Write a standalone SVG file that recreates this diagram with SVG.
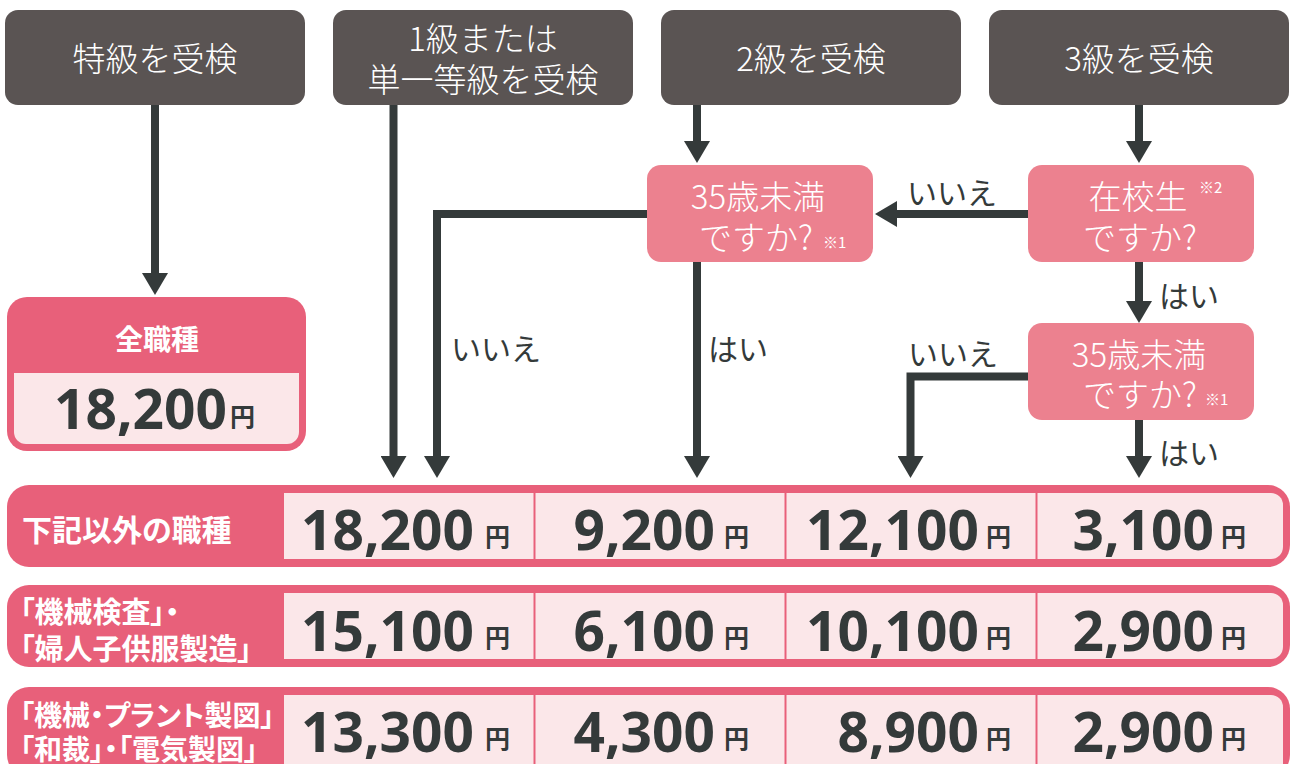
<svg xmlns="http://www.w3.org/2000/svg" width="1292" height="764" viewBox="0 0 1292 764">
<style>
.top{fill:#5a5453}
.q{fill:#ec818f}
.pk{fill:#e8607a}
.lt{fill:#fbe7e9}
.div{stroke:#e8607a;stroke-width:2}
.conn{fill:none;stroke:#343a3a;stroke-width:8}
.wt{fill:#fff;font-family:"Noto Sans CJK JP","Noto Sans",sans-serif;font-size:33px;font-weight:300;text-anchor:middle;dominant-baseline:central}
.qt{fill:#fff;font-family:"Noto Sans CJK JP","Noto Sans",sans-serif;font-size:33px;font-weight:300;dominant-baseline:central}
.sm{fill:#fff;font-family:"Noto Sans CJK JP",sans-serif;font-size:15px;dominant-baseline:central}
.lb{fill:#343a3a;font-family:"Noto Sans CJK JP",sans-serif;font-size:30px;text-anchor:middle;dominant-baseline:central}
.hd{fill:#fff;font-family:"Noto Sans CJK JP",sans-serif;font-weight:bold;font-size:28px;dominant-baseline:central;font-feature-settings:"palt"}
.num{fill:#343a3a;font-family:"Noto Sans","Noto Sans CJK JP",sans-serif;font-weight:bold;font-size:55px;text-anchor:end}
.yen{fill:#343a3a;font-family:"Noto Sans CJK JP",sans-serif;font-weight:bold;font-size:25px}
</style>
<defs>
<marker id="ah" markerUnits="userSpaceOnUse" markerWidth="22" markerHeight="26" viewBox="0 0 22 26" refX="0" refY="13" orient="auto">
<path d="M0,0 L22,13 L0,26 Z" fill="#343a3a"/>
</marker>
</defs>

<g id="connectors">
<path class="conn" d="M155,104 V273" marker-end="url(#ah)"/>
<path class="conn" d="M393.5,104 V456" marker-end="url(#ah)"/>
<path class="conn" d="M697,104 V141" marker-end="url(#ah)"/>
<path class="conn" d="M1139,104 V141" marker-end="url(#ah)"/>
<path class="conn" d="M1028,214 H897" marker-end="url(#ah)"/>
<path class="conn" d="M647,214 H437 V456" marker-end="url(#ah)"/>
<path class="conn" d="M697,262 V456" marker-end="url(#ah)"/>
<path class="conn" d="M1139,262 V301" marker-end="url(#ah)"/>
<path class="conn" d="M1028,376.5 H910.5 V456" marker-end="url(#ah)"/>
<path class="conn" d="M1139,419 V456" marker-end="url(#ah)"/>
<text class="lb" x="952" y="191">いいえ</text>
<text class="lb" x="496" y="347">いいえ</text>
<text class="lb" x="738" y="347">はい</text>
<text class="lb" x="1189" y="294">はい</text>
<text class="lb" x="953" y="352">いいえ</text>
<text class="lb" x="1189" y="451">はい</text>
</g>

<g id="n_tokkyu">
<rect class="top" x="5" y="10" width="300" height="95" rx="13"/>
<text class="wt" x="155" y="57">特級を受検</text>
</g>
<g id="n_1kyu">
<rect class="top" x="333" y="10" width="300" height="95" rx="13"/>
<text class="wt" x="483" y="37">1級または</text>
<text class="wt" x="483" y="78">単一等級を受検</text>
</g>
<g id="n_2kyu">
<rect class="top" x="661" y="10" width="300" height="95" rx="13"/>
<text class="wt" x="811" y="57">2級を受検</text>
</g>
<g id="n_3kyu">
<rect class="top" x="989" y="10" width="300" height="95" rx="13"/>
<text class="wt" x="1139" y="57">3級を受検</text>
</g>

<g id="q_age1">
<rect class="q" x="647" y="165" width="226" height="97" rx="14"/>
<text class="qt" x="758" y="195" text-anchor="middle">35歳未満</text>
<text class="qt" x="756" y="236" text-anchor="middle">ですか?</text>
<text class="sm" x="823" y="241">※1</text>
</g>
<g id="q_student">
<rect class="q" x="1028" y="165" width="226" height="97" rx="14"/>
<text class="qt" x="1138" y="195" text-anchor="middle">在校生</text>
<text class="sm" x="1199" y="186">※2</text>
<text class="qt" x="1140" y="236" text-anchor="middle">ですか?</text>
</g>
<g id="q_age2">
<rect class="q" x="1028" y="323" width="226" height="97" rx="14"/>
<text class="qt" x="1139" y="353" text-anchor="middle">35歳未満</text>
<text class="qt" x="1140" y="393" text-anchor="middle">ですか?</text>
<text class="sm" x="1205" y="398">※1</text>
</g>

<g id="all_jobs">
<rect class="pk" x="7" y="297" width="299" height="154" rx="20"/>
<path class="lt" d="M14,373 H299 V432 A12,12 0 0 1 287,444 H26 A12,12 0 0 1 14,432 Z"/>
<text class="hd" x="157" y="338" text-anchor="middle">全職種</text>
<text class="num" x="222" y="429" style="text-anchor:start" dx="-168">18,200</text>
<text class="yen" x="230" y="426">円</text>
</g>

<g id="row1">
<rect class="pk" x="7" y="485" width="1283" height="82" rx="22"/>
<path class="lt" d="M284,493 H1271 A12,12 0 0 1 1283,505 V547 A12,12 0 0 1 1271,559 H284 Z"/>
<line class="div" x1="534.5" y1="493" x2="534.5" y2="559"/>
<line class="div" x1="785.5" y1="493" x2="785.5" y2="559"/>
<line class="div" x1="1036.5" y1="493" x2="1036.5" y2="559"/>
<text class="hd" x="22" y="528" style="font-size:30px">下記以外の職種</text>
<text class="num" x="474" y="550">18,200</text><text class="yen" x="485" y="546">円</text>
<text class="num" x="715" y="550">9,200</text><text class="yen" x="724" y="546">円</text>
<text class="num" x="979" y="550">12,100</text><text class="yen" x="986" y="546">円</text>
<text class="num" x="1214" y="550">3,100</text><text class="yen" x="1221" y="546">円</text>
</g>

<g id="row2">
<rect class="pk" x="7" y="585" width="1283" height="82" rx="22"/>
<path class="lt" d="M284,593 H1271 A12,12 0 0 1 1283,605 V647 A12,12 0 0 1 1271,659 H284 Z"/>
<line class="div" x1="534.5" y1="593" x2="534.5" y2="659"/>
<line class="div" x1="785.5" y1="593" x2="785.5" y2="659"/>
<line class="div" x1="1036.5" y1="593" x2="1036.5" y2="659"/>
<text class="hd" x="20" y="610" style="font-size:29px">「機械検査」・</text>
<text class="hd" x="20" y="647" style="font-size:29px">「婦人子供服製造」</text>
<text class="num" x="474" y="651">15,100</text><text class="yen" x="485" y="647">円</text>
<text class="num" x="715" y="651">6,100</text><text class="yen" x="724" y="647">円</text>
<text class="num" x="979" y="651">10,100</text><text class="yen" x="986" y="647">円</text>
<text class="num" x="1214" y="651">2,900</text><text class="yen" x="1221" y="647">円</text>
</g>

<g id="row3">
<rect class="pk" x="7" y="687" width="1283" height="90" rx="22"/>
<path class="lt" d="M284,695 H1271 A12,12 0 0 1 1283,707 V769 H284 Z"/>
<line class="div" x1="534.5" y1="695" x2="534.5" y2="769"/>
<line class="div" x1="785.5" y1="695" x2="785.5" y2="769"/>
<line class="div" x1="1036.5" y1="695" x2="1036.5" y2="769"/>
<text class="hd" x="20" y="714">「機械・プラント製図」</text>
<text class="hd" x="20" y="748">「和裁」・「電気製図」</text>
<text class="num" x="474" y="752">13,300</text><text class="yen" x="485" y="748">円</text>
<text class="num" x="715" y="752">4,300</text><text class="yen" x="724" y="748">円</text>
<text class="num" x="979" y="752">8,900</text><text class="yen" x="986" y="748">円</text>
<text class="num" x="1214" y="752">2,900</text><text class="yen" x="1221" y="748">円</text>
</g>
</svg>
